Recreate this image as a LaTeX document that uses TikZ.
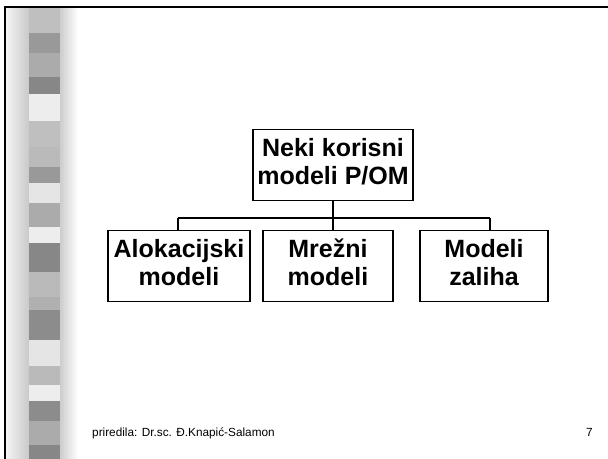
\documentclass[tikz,border=0pt]{standalone}
\usepackage{fontspec}
\setmainfont{Liberation Sans}
\begin{document}
\begin{tikzpicture}[x=1bp,y=-1bp,
  orgbox/.style={draw=black, line width=1.5bp, fill=white, inner sep=0pt,
    minimum height=71bp, align=center,
    font=\fontsize{25bp}{28bp}\selectfont\bfseries,
    execute at begin node={\rule{0pt}{24bp}},
    execute at end node={\rule[-7bp]{0pt}{7bp}}},
  link/.style={draw=black, line width=1.8bp},
  foot/.style={inner sep=0pt, font=\fontsize{11.8bp}{13bp}\selectfont}]
\useasboundingbox (0,0) rectangle (608,459);
\fill[white] (0,0) rectangle (608,459);

% side band: soft grey gradients around a column of grey tiles
\shade[left color={rgb,1:red,0.96;green,0.96;blue,0.96}, right color={rgb,1:red,0.78;green,0.78;blue,0.78}]
  (6,7) rectangle (30,459);
\shade[left color={rgb,1:red,0.78;green,0.78;blue,0.78}, right color=white]
  (58,7) rectangle (78,459);
\foreach \ya/\yb/\v in {8/33/0.75, 33/53/0.60, 53/77/0.67, 77/94/0.53,
    94/121/0.93, 121/147/0.75, 147/167/0.73, 167/183/0.60, 183/203/0.90,
    203/227/0.67, 227/243/0.93, 243/272/0.53, 272/297/0.73, 297/310/0.69,
    310/340/0.55, 340/366/0.90, 366/385/0.73, 385/401/0.93, 401/421/0.55,
    421/445/0.67, 445/459/0.53}{
  \definecolor{tile}{gray}{\v}
  \fill[tile] (29,\ya) rectangle (60,\yb);
}

% slide frame
\draw[line width=2bp] (5,459) -- (5,7) -- (608,7);

% hierarchy
\node[orgbox, minimum width=160bp] (top) at (333,165) {Neki korisni\\modeli P/OM};
\node[orgbox, minimum width=142bp] (alok) at (179,266) {Alokacijski\\modeli};
\node[orgbox, minimum width=130bp] (mrez) at (328,266) {Mrežni\\modeli};
\node[orgbox, minimum width=128bp] (zal) at (484,266) {Modeli\\zaliha};

\coordinate (jA) at (178,218);
\coordinate (jB) at (333,218);
\coordinate (jC) at (490,218);
\draw[link] (top.south) -- (jB);
\draw[link] (jA) -- (jC);
\draw[link] (jA) -- (jA |- alok.north);
\draw[link] (jB) -- (jB |- mrez.north);
\draw[link] (jC) -- (jC |- zal.north);

% footer
\node[foot, anchor=base west] (author) at (92,436) {priredila: Dr.sc. Đ.Knapić-Salamon};
\node[foot, anchor=base east] (page) at (593,436) {7};
\end{tikzpicture}
\end{document}
